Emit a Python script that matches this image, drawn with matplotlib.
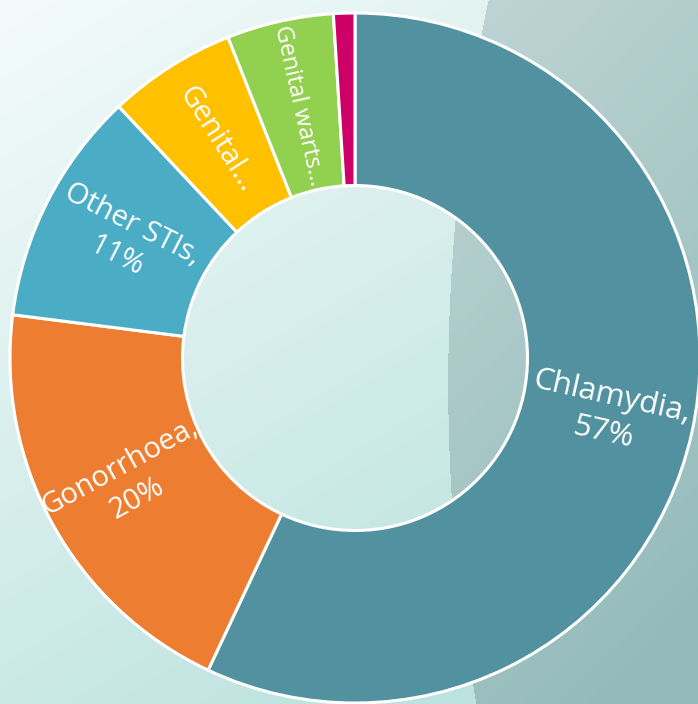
import numpy as np
import matplotlib
matplotlib.use("Agg")
import matplotlib.pyplot as plt
from matplotlib.colors import to_rgb

# ---- data ----
categories = ["Chlamydia", "Gonorrhoea", "Other STIs", "Genital herpes", "Genital warts", "Syphilis"]
values = [57, 20, 11, 6, 5, 1]
display_labels = ["Chlamydia,\n57%", "Gonorrhoea,\n20%", "Other STIs,\n11%", "Genital…", "Genital warts…", ""]
colors = ["#5191A0", "#ED7D31", "#4BACC6", "#FFC000", "#92D050", "#CC0066"]
label_sizes = [22.5, 21, 21, 21, 17, 17]

W, H = 698, 704
fig = plt.figure(figsize=(W / 100, H / 100), dpi=100)
ax = fig.add_axes([0, 0, 1, 1])
ax.set_xlim(0, W)
ax.set_ylim(0, H)
ax.set_aspect("equal")
ax.axis("off")

# ---- background gradient ----
yy, xx = np.mgrid[0:H, 0:W].astype(float)
t = np.clip(0.45 * xx / W + 0.75 * yy / H, 0, 1)[..., None]
c0 = np.array(to_rgb("#F4FBFB"))
c1 = np.array(to_rgb("#BCE3DF"))
bg = c0 * (1 - t) + c1 * t
# right-hand panel
s = yy / H
bx = 488 * (1 - s) ** 2 + 2 * 414 * s * (1 - s) + 476 * s ** 2
mask = xx > bx
t2 = np.clip(0.3 * (xx - 450) / 250 + 0.8 * yy / H, 0, 1)[..., None]
r0 = np.array(to_rgb("#C0D5D5"))
r1 = np.array(to_rgb("#93BBBA"))
rc = r0 * (1 - t2) + r1 * t2
bg = np.where(mask[..., None], rc, bg)
ax.imshow(bg, extent=(0, W, 0, H), origin="upper", zorder=0, interpolation="bilinear")

# ---- donut ----
R = 345
cx, cy = 355, H - 358
wedges, _ = ax.pie(values, colors=colors, startangle=90, counterclock=False,
                   radius=R, center=(cx, cy), frame=True,
                   wedgeprops=dict(width=R * 0.5, edgecolor="white", linewidth=2.2))
for w in wedges:
    w.set_zorder(2)
ax.set_xlim(0, W)
ax.set_ylim(0, H)
ax.axis("off")

# ---- labels ----
total = sum(values)
start = 90.0
for v, lab, fs in zip(values, display_labels, label_sizes):
    span = 360.0 * v / total
    mid = start - span / 2
    start -= span
    if not lab:
        continue
    th = np.deg2rad(mid)
    x = cx + 0.75 * R * np.cos(th)
    y = cy + 0.75 * R * np.sin(th)
    rot = mid if np.cos(th) >= 0 else mid - 180
    if rot < -90:
        rot += 360
    ax.text(x, y, lab, rotation=rot, rotation_mode="anchor", ha="center", va="center",
            color="white", fontsize=fs, family=["Open Sans", "DejaVu Sans"],
            linespacing=1.3, zorder=3, multialignment="center")

fig.savefig("out.png", dpi=100)
